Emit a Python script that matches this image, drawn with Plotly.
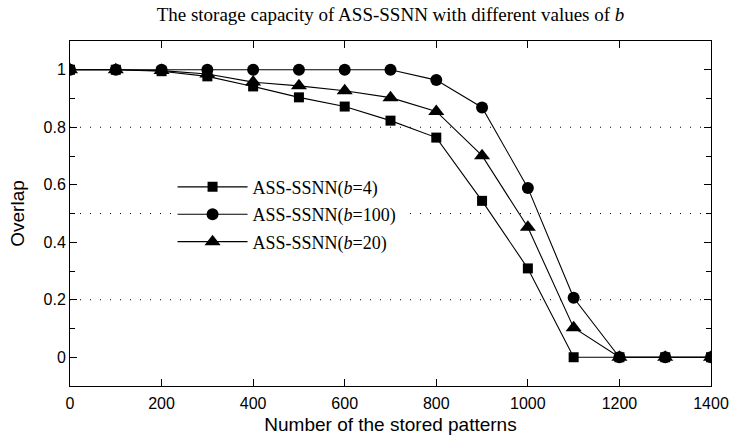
import plotly.graph_objects as go

patterns = [0, 100, 200, 300, 400, 500, 600, 700, 800, 900, 1000, 1100, 1200, 1300, 1400]
overlap_b4 = [1, 1, 0.995, 0.977, 0.942, 0.904, 0.872, 0.823, 0.764, 0.544, 0.309, 0, 0, 0, 0]
overlap_b100 = [1, 1, 1, 1, 1, 1, 1, 1, 0.964, 0.869, 0.589, 0.207, 0, 0, 0]
overlap_b20 = [1, 1, 0.997, 0.985, 0.957, 0.944, 0.927, 0.903, 0.855, 0.701, 0.452, 0.103, 0, 0, 0]
names = ["ASS-SSNN(<i>b</i>=4)", "ASS-SSNN(<i>b</i>=100)", "ASS-SSNN(<i>b</i>=20)"]
ref_lines = [0.8, 0.5, 0.2]
x_ticks = [0, 200, 400, 600, 800, 1000, 1200, 1400]
y_ticks = [0, 0.2, 0.4, 0.6, 0.8, 1]

series = [
    (overlap_b4, "square", 10),
    (overlap_b100, "circle", 12),
    (overlap_b20, "triangle-up", 14),
]

fig = go.Figure()
for i, (vals, sym, sz) in enumerate(series):
    fig.add_trace(go.Scatter(
        x=patterns, y=vals, mode="lines+markers", name=names[i],
        legendgroup="g%d" % i,
        line=dict(color="black", width=1.1),
        marker=dict(symbol=sym, size=sz, color="black", line=dict(width=0)),
    ))

for v in ref_lines:
    fig.add_shape(type="line", xref="paper", x0=0, x1=1, yref="y", y0=v, y1=v,
                  line=dict(color="black", width=1, dash="1px,9px"), layer="below")

sans = "Liberation Sans, Arial, sans-serif"
serif = "Liberation Serif, Times New Roman, serif"

fig.update_layout(
    width=732, height=436,
    margin=dict(l=70, r=21, t=41, b=50, autoexpand=False),
    paper_bgcolor="white", plot_bgcolor="white",
    font=dict(family=sans, size=16, color="black"),
    title=dict(text="The storage capacity of ASS-SSNN with different values of <i>b</i>",
               x=0.5, xanchor="center", xref="paper", y=0.968, yanchor="middle",
               font=dict(family=serif, size=19, color="black")),
    showlegend=True,
    legend=dict(x=0.16, y=0.63, xanchor="left", yanchor="top",
                bgcolor="white", borderwidth=0,
                font=dict(family=serif, size=18, color="black"),
                tracegroupgap=1, itemwidth=70),
)
fig.update_xaxes(
    range=[0, 1400], tickvals=x_ticks, ticks="inside", ticklen=7, tickcolor="black",
    showline=True, linecolor="black", linewidth=1, mirror="ticks",
    showgrid=False, zeroline=False, ticklabelstandoff=3,
    title=dict(text="Number of the stored patterns", standoff=6),
)
fig.update_yaxes(
    range=[-0.1, 1.1], tickvals=y_ticks, ticks="inside", ticklen=7, tickcolor="black",
    minor=dict(tickvals=[-0.1, 0.1, 0.3, 0.5, 0.7, 0.9, 1.1], ticks="inside", ticklen=5, tickcolor="black"),
    showline=True, linecolor="black", linewidth=1, mirror="ticks",
    showgrid=False, zeroline=False,
    title=dict(text="Overlap", standoff=13),
)

fig.write_html("out.html")
